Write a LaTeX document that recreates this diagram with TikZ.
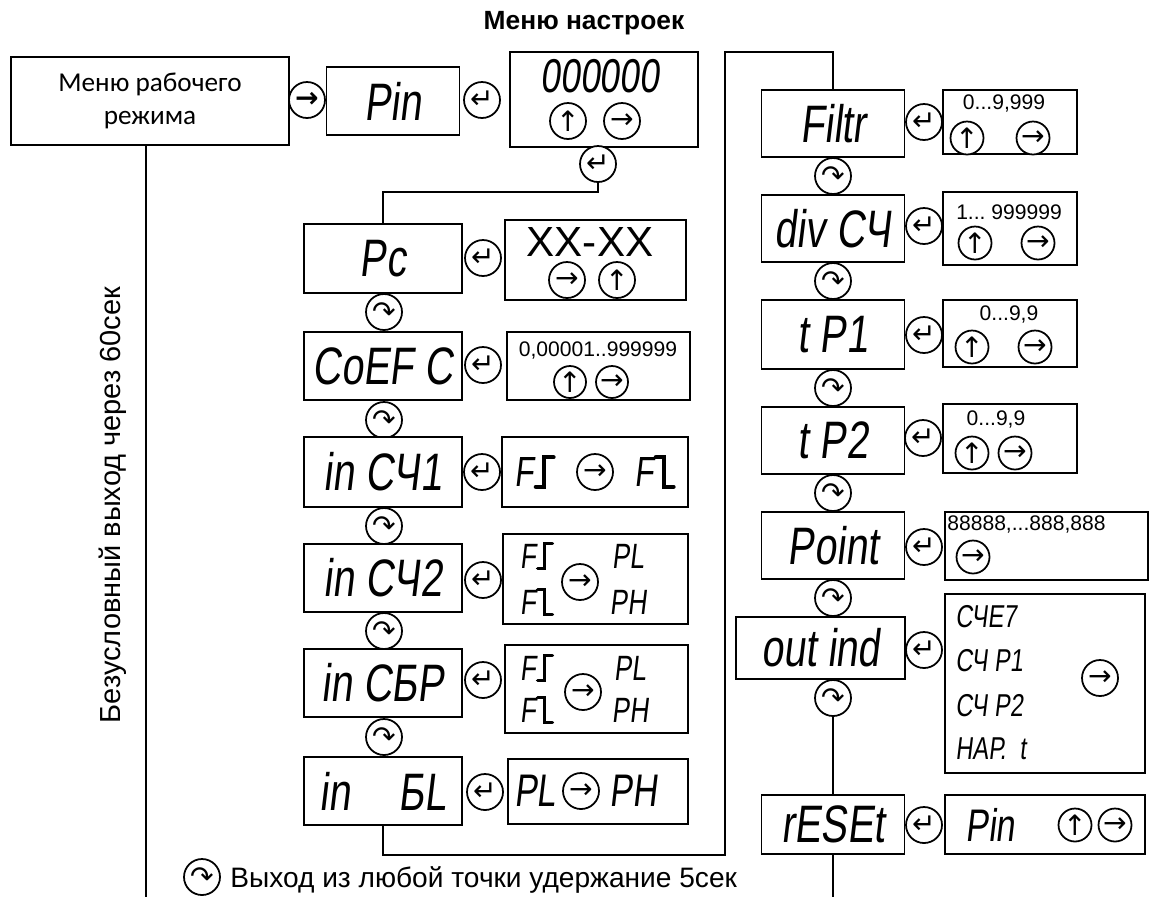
\documentclass[tikz,border=0pt]{standalone}
\usepackage{fontspec}
\setmainfont{Liberation Sans}
\newfontfamily\calib{Carlito}
\newfontfamily\segfont[FakeStretch=0.75,FakeSlant=0.12]{Liberation Sans}
\newfontfamily\symfont{DejaVu Sans}
\usetikzlibrary{positioning,calc}

% front edges as the display shows them
\newcommand{\edgeup}{\tikz[baseline=0pt]\draw[line width=0.1em,line cap=round] (0,0) -- (0.2em,0) -- (0.2em,0.7em) -- (0.42em,0.7em);}
\newcommand{\edgedn}{\tikz[baseline=0pt]\draw[line width=0.1em,line cap=round] (0,0.7em) -- (0.2em,0.7em) -- (0.2em,0) -- (0.42em,0);}

\begin{document}
\begin{tikzpicture}[
  x=0.02cm, y=-0.02cm,
  box/.style={draw, line width=1.1pt, inner sep=0pt, fill=white},
  lbox/.style={box, minimum width=3.16cm, minimum height=1.36cm, font=\segfont\fontsize{30}{30}\selectfont},
  rbox/.style={box, minimum width=2.86cm, minimum height=1.34cm, font=\segfont\fontsize{30}{30}\selectfont},
  segm/.style={inner sep=0pt, font=\segfont\fontsize{24}{24}\selectfont},
  segt/.style={inner sep=0pt, font=\segfont\fontsize{20}{20}\selectfont},
  segs/.style={inner sep=0pt, anchor=west, font=\segfont\fontsize{18}{18}\selectfont},
  btn/.style={circle, draw, line width=1pt, fill=white, minimum size=0.72cm, inner sep=0pt, font=\symfont\fontsize{16}{16}\selectfont},
  val/.style={inner sep=0pt, font=\fontsize{12}{12}\selectfont},
  link/.style={line width=1.1pt},
]
\fill[white] (0,0) rectangle (1151,897);
\useasboundingbox (0,0) rectangle (1151,897);

% ---------- top row ----------
\node[font=\bfseries\fontsize{15}{17}\selectfont] (title) at (584,23) {Меню настроек};
\node[box, minimum width=5.56cm, minimum height=1.76cm, align=center, font=\calib\fontsize{15.5}{19}\selectfont] (menu) at (150,101) {Меню рабочего\\режима};
\node[btn, font=\symfont\bfseries\fontsize{16}{16}\selectfont] (gopin) at (307,100) {→};
\node[box, minimum width=2.66cm, minimum height=1.36cm, font=\segfont\fontsize{30}{30}\selectfont] (pin) at (393,101) {Pin};
\node[btn] (entpin) at (482,100) {↵};
\node[box, minimum width=3.76cm, minimum height=1.9cm] (code) at (604,99.5) {};
\node[inner sep=0pt, font=\segfont\fontsize{27}{27}\selectfont] (codetxt) at (600,76) {000000};
\node[btn] (codeup) at (568,121) {↑};
\node[btn] (coderi) at (622,121) {→};
\node[btn] (entcode) at (598,164) {↵};

% ---------- left column ----------
\node[lbox, minimum height=1.38cm] (pc) at (383,258.5) {Pc};
\node[btn] (entpc) at (483,258) {↵};
\node[box, minimum width=3.62cm, minimum height=1.6cm] (pcv) at (595.5,260) {};
\node[inner sep=0pt, font=\fontsize{24}{24}\selectfont] (pcvtxt) at (590,242) {XX-XX};
\node[btn] (pcvri) at (567,280) {→};
\node[btn] (pcvup) at (617,280) {↑};

\node[btn] (rot1) at (384,312) {↷};
\node[lbox] (coef) at (383,366) {CoEF C};
\node[btn] (entcoef) at (483,365) {↵};
\node[box, minimum width=3.66cm, minimum height=1.36cm] (coefv) at (598.5,366) {};
\node[val] (coefvtxt) at (598,350) {0,00001..999999};
\node[btn, minimum size=0.64cm] (coefvup) at (570,382) {↑};
\node[btn, minimum size=0.64cm] (coefvri) at (612,382) {→};

\node[btn] (rot2) at (384,420) {↷};
\node[lbox, minimum height=1.4cm] (cn1) at (383,472) {in CЧ1};
\node[btn] (entcn1) at (482,472) {↵};
\node[box, minimum width=3.72cm, minimum height=1.4cm] (cn1v) at (595,472) {};
\node[segm] (cn1a) at (535,472) {F\edgeup};
\node[btn] (cn1b) at (595,472) {→};
\node[segm] (cn1c) at (655,472) {F\edgedn};

\node[btn] (rot3) at (384,526) {↷};
\node[lbox] (cn2) at (383,578) {in CЧ2};
\node[btn] (entcn2) at (483,580) {↵};
\node[box, minimum width=3.7cm, minimum height=1.8cm] (cn2v) at (595.5,579) {};
\node[segt] (cn2a) at (537,556) {F\edgeup};
\node[segt] (cn2b) at (537,602) {F\edgedn};
\node[btn] (cn2c) at (580,582) {→};
\node[segt] (cn2d) at (628,556) {PL};
\node[segt] (cn2e) at (628,602) {PH};

\node[btn] (rot4) at (384,631) {↷};
\node[lbox] (sbr) at (383,683) {in CБP};
\node[btn] (entsbr) at (483,680) {↵};
\node[box, minimum width=3.66cm, minimum height=1.76cm] (sbrv) at (596.5,689) {};
\node[segt] (sbra) at (537,668) {F\edgeup};
\node[segt] (sbrb) at (537,710) {F\edgedn};
\node[btn] (sbrc) at (583,692) {→};
\node[segt] (sbrd) at (630,668) {PL};
\node[segt] (sbre) at (630,710) {PH};

\node[btn] (rot5) at (384,737) {↷};
\node[lbox] (bl) at (383,791) {in\hspace{0.9em}БL};
\node[btn] (entbl) at (485,792) {↵};
\node[box, minimum width=3.6cm, minimum height=1.3cm] (blv) at (598,791.5) {};
\node[segm, font=\segfont\fontsize{26}{26}\selectfont] (bla) at (535,791) {PL};
\node[btn] (blb) at (581,791) {→};
\node[segm, font=\segfont\fontsize{26}{26}\selectfont] (blc) at (633,791) {PH};

% ---------- right column ----------
\node[rbox] (filtr) at (833,123.5) {Filtr};
\node[btn] (entfil) at (924,122) {↵};
\node[box, minimum width=2.68cm, minimum height=1.28cm] (filv) at (1010,122) {};
\node[val] (filvtxt) at (1004,103) {0...9,999};
\node[btn, minimum size=0.66cm] (filvup) at (967,138) {↑};
\node[btn, minimum size=0.66cm] (filvri) at (1033,138) {→};

\node[btn] (rot6) at (833,176) {↷};
\node[rbox] (div) at (833,228.5) {div CЧ};
\node[btn] (entdiv) at (924,226) {↵};
\node[box, minimum width=2.68cm, minimum height=1.46cm] (divv) at (1010,228.5) {};
\node[val] (divvtxt) at (1009,212) {1...\ 999999};
\node[btn, minimum size=0.66cm] (divvup) at (975,243) {↑};
\node[btn, minimum size=0.66cm] (divvri) at (1038,243) {→};

\node[btn] (rot7) at (833,281) {↷};
\node[rbox, minimum height=1.38cm] (tpa) at (833,334.5) {t P1};
\node[btn] (enttpa) at (924,335) {↵};
\node[box, minimum width=2.68cm, minimum height=1.34cm] (tpav) at (1010,333.5) {};
\node[val] (tpavtxt) at (1009,314) {0...9,9};
\node[btn, minimum size=0.66cm] (tpavup) at (972,347) {↑};
\node[btn, minimum size=0.66cm] (tpavri) at (1035,347) {→};

\node[btn] (rot8) at (833,388) {↷};
\node[rbox] (tpb) at (833,440.5) {t P2};
\node[btn] (enttpb) at (923,438) {↵};
\node[box, minimum width=2.68cm, minimum height=1.38cm] (tpbv) at (1010,438.5) {};
\node[val] (tpbvtxt) at (996,419) {0...9,9};
\node[btn, minimum size=0.66cm] (tpbvup) at (972,453) {↑};
\node[btn, minimum size=0.66cm] (tpbvri) at (1015,453) {→};

\node[btn] (rot9) at (833,493) {↷};
\node[rbox] (point) at (833,545.5) {Point};
\node[btn] (entpoint) at (924,547) {↵};
\node[box, minimum width=4.06cm, minimum height=1.36cm] (pointv) at (1046.5,546) {};
\node[val, anchor=west] (pointvtxt) at (947,524) {88888,...888,888};
\node[btn, minimum size=0.66cm] (pointvri) at (973,557) {→};

\node[btn] (rot10) at (833,598) {↷};
\node[box, minimum width=3.38cm, minimum height=1.24cm, font=\segfont\fontsize{30}{30}\selectfont] (outind) at (820.5,648) {out ind};
\node[btn] (entout) at (924,650) {↵};
\node[box, minimum width=4cm, minimum height=3.58cm] (outv) at (1045,683.5) {};
\node[segs] (outva) at (955,617) {СЧЕ7};
\node[segs] (outvb) at (955,661) {СЧ Р1};
\node[segs] (outvc) at (955,706) {СЧ Р2};
\node[segs] (outvd) at (955,749) {НАР.\ \ t};
\node[btn] (outvri) at (1100,678) {→};

\node[btn] (rot11) at (833,698) {↷};
\node[rbox, minimum height=1.18cm] (reset) at (833,824.5) {rESEt};
\node[btn] (entreset) at (924,825) {↵};
\node[box, minimum width=4cm, minimum height=1.18cm] (resetv) at (1045,824.5) {};
\node[segm, font=\segfont\fontsize{26}{26}\selectfont] (resetva) at (990,825) {Pin};
\node[btn, minimum size=0.66cm] (resetvup) at (1075,825) {↑};
\node[btn, minimum size=0.66cm] (resetvri) at (1115,825) {→};

% ---------- side notes ----------
\node[rotate=90, font=\fontsize{16.5}{18}\selectfont] (side) at (113,505) {Безусловный выход через 60сек};
\node[btn] (lgd) at (202,877) {↷};
\node[anchor=base west, inner sep=0pt, font=\fontsize{16}{18}\selectfont] (lgdtxt) at (230,887) {Выход из любой точки удержание 5сек};

% ---------- lines ----------
\coordinate (lbot) at (146,897);
\coordinate (ja) at (383,192);
\coordinate (jb) at (383,855);
\coordinate (jc) at (725,855);
\coordinate (jd) at (725,52);
\coordinate (je) at (833,52);
\coordinate (rbot) at (833,897);
\draw[link] (menu.south -| lbot) -- (lbot);
\draw[link] (entcode.south) |- (ja) -- (pc.north);
\draw[link] (bl.south) -- (jb) -- (jc) -- (jd) -- (je) -- (filtr.north);
\draw[link] (rot11.south) -- (reset.north);
\draw[link] (reset.south) -- (rbot);

\end{tikzpicture}
\end{document}
